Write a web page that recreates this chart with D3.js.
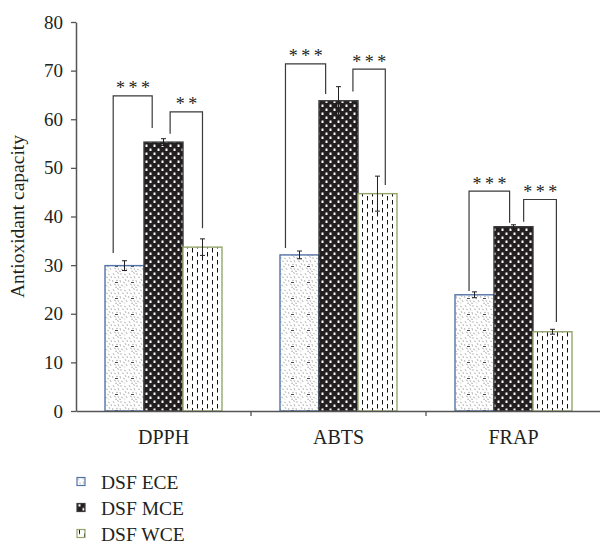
<!DOCTYPE html>
<html>
<head>
<meta charset="utf-8">
<script src="https://cdn.jsdelivr.net/npm/d3@7"></script>
<style>
  body { margin: 0; background: #fff; }
  svg { display: block; }
  text { font-family: "Liberation Serif", "DejaVu Serif", serif; fill: #231f20; }
</style>
</head>
<body>
<div id="chart"></div>
<script>
var WD = 600, HT = 545
var margin = { left: 76, right: 0, top: 22, bottom: 134 }

// data
var categories = ["DPPH", "ABTS", "FRAP"]
var series = ["DSF ECE", "DSF MCE", "DSF WCE"]
var ece = [29.9, 32.1, 23.9]
var mce = [55.3, 63.8, 37.9]
var wce = [33.7, 44.7, 16.3]
var eceErr = [1.0, 0.8, 0.6]
var mceErr = [0.7, 2.9, 0.4]
var wceErr = [1.7, 3.6, 0.5]
var yTicks = [0, 10, 20, 30, 40, 50, 60, 70, 80]

// significance brackets
var sigLabels = ["***", "**", "***", "***", "***", "***"]
var sigCategory = ["DPPH", "DPPH", "ABTS", "ABTS", "FRAP", "FRAP"]
var sigFrom = [0, 1, 0, 1, 0, 1]
var sigTo = [1, 2, 1, 2, 1, 2]
var sigTop = [64.8, 61.5, 71.4, 70.3, 45.2, 43.5]
var sigLeftEnd = [32.5, 57.0, 33.5, 65.7, 24.7, 38.9]
var sigRightEnd = [58.2, 37.6, 65.2, 46.5, 38.7, 18.3]
var sigLeftShift = [-0.29, 0.17, -0.36, 0.37, -0.14, 0.26]   // fraction of bar width
var sigRightShift = [-0.29, 0.0, -0.33, 0.2, -0.1, 0.1]

var values = [ece, mce, wce]
var errors = [eceErr, mceErr, wceErr]
var strokes = ["#5373a6", "#3a3a3a", "#94a56c"]
var fills = ["url(#pEce)", "url(#pMce)", "url(#pWce)"]

var svg = d3.select("#chart").append("svg")
    .attr("width", WD)
    .attr("height", HT)

// patterns
var defs = svg.append("defs")
var pe = defs.append("pattern").attr("id", "pEce").attr("patternUnits", "userSpaceOnUse")
    .attr("width", 16).attr("height", 16)
pe.append("rect").attr("width", 16).attr("height", 16).attr("fill", "#fff")
var speck = [[1,1,2,3],[5,0.5,7,1.5],[9,1,9,3],[12,2,14,3],[15,4,15.5,6],[2,5,4,6],[6,4,7,6.5],
             [10,5,12,5.5],[13,7,14,9],[0.5,8,1,10],[4,9,6,8],[8,8,8.5,10.5],[11,10,13,11],
             [14,12,15,14],[2,12,4,13],[6,12,6.5,14],[9,13,11,14],[3,15,5,15.5],[12,14.5,13,15.5],
             [7,15,9,15.5]]
speck.forEach(function(s){
  pe.append("line").attr("x1", s[0]).attr("y1", s[1]).attr("x2", s[2]).attr("y2", s[3])
    .attr("stroke", "#a8a8a8").attr("stroke-width", 0.8)
})
pe.append("line").attr("x1", 3).attr("y1", 10.5).attr("x2", 6).attr("y2", 10.5).attr("stroke", "#333").attr("stroke-width", 0.9)

var pm = defs.append("pattern").attr("id", "pMce").attr("patternUnits", "userSpaceOnUse")
    .attr("width", 8).attr("height", 8)
pm.append("rect").attr("width", 8).attr("height", 8).attr("fill", "#231f20")
pm.append("rect").attr("x", 1.5).attr("y", 0.5).attr("width", 2).attr("height", 2.5).attr("fill", "#fff")
pm.append("rect").attr("x", 5.5).attr("y", 4.5).attr("width", 2).attr("height", 2.5).attr("fill", "#fff")

var pw = defs.append("pattern").attr("id", "pWce").attr("patternUnits", "userSpaceOnUse")
    .attr("width", 10).attr("height", 8)
pw.append("rect").attr("width", 10).attr("height", 8).attr("fill", "#fff")
pw.append("line").attr("x1", 2.5).attr("y1", 0).attr("x2", 2.5).attr("y2", 4.5).attr("stroke", "#111").attr("stroke-width", 1)
pw.append("line").attr("x1", 7.5).attr("y1", 4).attr("x2", 7.5).attr("y2", 8).attr("stroke", "#111").attr("stroke-width", 1)
pw.append("line").attr("x1", 7.5).attr("y1", 0).attr("x2", 7.5).attr("y2", 0.5).attr("stroke", "#111").attr("stroke-width", 1)

// scales
var x0 = d3.scaleBand().domain(categories).range([margin.left, 601]).padding(0)
var x1 = d3.scaleBand().domain(d3.range(series.length)).range([0, x0.bandwidth()])
    .paddingInner(0).paddingOuter(0.744)
var y = d3.scaleLinear().domain([0, 80]).range([HT - margin.bottom, margin.top])

// bars
series.forEach(function(s, si){
  svg.append("g").selectAll("rect")
    .data(categories)
    .enter().append("rect")
      .attr("x", function(c){ return x0(c) + x1(si) })
      .attr("y", function(c, i){ return y(values[si][i]) })
      .attr("width", x1.bandwidth())
      .attr("height", function(c, i){ return y(0) - y(values[si][i]) })
      .attr("fill", fills[si])
      .attr("stroke", strokes[si])
      .attr("stroke-width", 1.4)
})

// error bars
series.forEach(function(s, si){
  var g = svg.append("g").attr("stroke", "#231f20").attr("stroke-width", 1)
  categories.forEach(function(c, i){
    var cx = x0(c) + x1(si) + x1.bandwidth() / 2
    var hi = y(values[si][i] + errors[si][i]), lo = y(values[si][i] - errors[si][i])
    g.append("line").attr("x1", cx).attr("x2", cx).attr("y1", hi).attr("y2", lo)
    g.append("line").attr("x1", cx - 2.5).attr("x2", cx + 2.5).attr("y1", hi).attr("y2", hi)
    g.append("line").attr("x1", cx - 2.5).attr("x2", cx + 2.5).attr("y1", lo).attr("y2", lo)
  })
})

// axes
var yAxis = svg.append("g")
    .attr("transform", "translate(" + margin.left + ",0)")
    .call(d3.axisLeft(y).tickValues(yTicks).tickSize(5).tickPadding(8).tickSizeOuter(0))
yAxis.select(".domain").attr("stroke", "#555").attr("stroke-width", 1.5)
yAxis.selectAll(".tick line").attr("stroke", "#555").attr("stroke-width", 1.3)
yAxis.selectAll(".tick text").attr("font-family", "Liberation Serif").attr("font-size", 19).attr("fill", "#231f20")

var xAxis = svg.append("g")
    .attr("transform", "translate(0," + y(0) + ")")
    .call(d3.axisBottom(x0).tickSize(0).tickPadding(19).tickSizeOuter(0))
xAxis.select(".domain").attr("stroke", "#555").attr("stroke-width", 1.5)
xAxis.selectAll(".tick text").attr("font-family", "Liberation Serif").attr("font-size", 20).attr("fill", "#231f20")
// category separators
svg.append("g").selectAll("line")
  .data(categories.slice(1))
  .enter().append("line")
    .attr("x1", function(c){ return x0(c) }).attr("x2", function(c){ return x0(c) })
    .attr("y1", y(0)).attr("y2", y(0) + 5)
    .attr("stroke", "#555").attr("stroke-width", 1.3)

svg.append("text")
    .attr("transform", "translate(24," + y(40) + ") rotate(-90)")
    .attr("text-anchor", "middle")
    .attr("font-size", 19.5)
    .text("Antioxidant capacity")

// significance brackets
var bg = svg.append("g")
sigLabels.forEach(function(lab, k){
  var c = sigCategory[k], bw = x1.bandwidth()
  var xl = x0(c) + x1(sigFrom[k]) + bw / 2 + sigLeftShift[k] * bw
  var xr = x0(c) + x1(sigTo[k]) + bw / 2 + sigRightShift[k] * bw
  var yt = y(sigTop[k])
  bg.append("path")
    .attr("d", "M" + xl + "," + y(sigLeftEnd[k]) + "V" + yt + "H" + xr + "V" + y(sigRightEnd[k]))
    .attr("fill", "none").attr("stroke", "#3a3a3a").attr("stroke-width", 1.2)
  bg.append("text")
    .attr("x", (xl + xr) / 2 + 2)
    .attr("y", yt - 1.5)
    .attr("text-anchor", "middle")
    .attr("font-family", "DejaVu Sans")
    .attr("font-size", 18)
    .attr("letter-spacing", 3.5)
    .attr("fill", "#555")
    .text(lab)
})

// legend
var legend = svg.append("g").selectAll("g")
  .data(series)
  .enter().append("g")
    .attr("transform", function(d, i){ return "translate(77," + (477.5 + i * 26) + ")" })
legend.append("rect")
    .attr("width", 8).attr("height", 8)
    .attr("fill", function(d, i){ return fills[i] })
    .attr("stroke", function(d, i){ return strokes[i] })
    .attr("stroke-width", 1.2)
legend.append("text")
    .attr("x", 24).attr("y", 11.5)
    .attr("font-size", 19.5)
    .text(function(d){ return d })
</script>
</body>
</html>
